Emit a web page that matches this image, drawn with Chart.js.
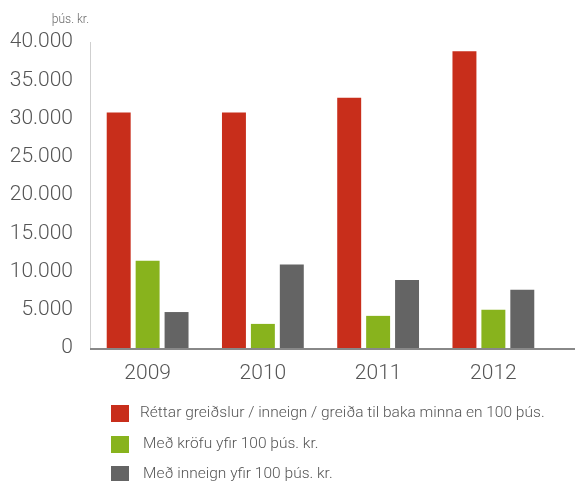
<!DOCTYPE html>
<html>
<head>
<meta charset="utf-8">
<script src="https://cdn.jsdelivr.net/npm/chart.js@4/dist/chart.umd.min.js"></script>
<style>
  html, body { margin: 0; padding: 0; background: #fff; }
  #wrap { width: 575px; height: 481px; position: relative; }
</style>
</head>
<body>
<div id="wrap"><canvas id="chart"></canvas></div>
<script>
const years = ["2009", "2010", "2011", "2012"];
const seriesNames = [
  "Réttar greiðslur / inneign / greiða til baka minna en 100 þús.",
  "Með kröfu yfir 100 þús. kr.",
  "Með inneign yfir 100 þús. kr."
];
const smallPayments = [30800, 30800, 32700, 38800];
const withClaim = [11400, 3150, 4200, 5000];
const withCredit = [4700, 10900, 8900, 7600];
const unitLabel = "þús. kr.";

const colors = ["#c82e1b", "#88b31d", "#646464"];
const fontFamily = "'Helvetica Neue', Roboto, 'Liberation Sans', Arial, sans-serif";

// thousands separator with a dot
function fmt(v) {
  return String(v).replace(/\B(?=(\d{3})+(?!\d))/g, ".");
}

// unit label, long x axis line and the stacked legend
const extras = {
  id: "extras",
  afterDraw(chart) {
    const c = chart.ctx;
    const area = chart.chartArea;
    c.save();

    c.fillStyle = "#666";
    c.font = "300 12px " + fontFamily;
    c.textAlign = "right";
    c.textBaseline = "middle";
    c.fillText(unitLabel, 89, 20);

    c.strokeStyle = "#888";
    c.lineWidth = 2;
    c.beginPath();
    c.moveTo(area.left, area.bottom + 1);
    c.lineTo(chart.width, area.bottom + 1);
    c.stroke();

    const rows = [
      { y: 413, tx: 140 },
      { y: 444, tx: 143 },
      { y: 474, tx: 143 }
    ];
    c.textAlign = "left";
    c.font = "300 15.5px " + fontFamily;
    chart.data.datasets.forEach((ds, i) => {
      const r = rows[i];
      c.fillStyle = ds.backgroundColor;
      c.fillRect(111, r.y - 8, 18, 17);
      c.fillStyle = "#555";
      c.fillText(ds.label, r.tx, r.y);
    });
    c.restore();
  }
};

new Chart(document.getElementById("chart"), {
  type: "bar",
  data: {
    labels: years,
    datasets: [
      { label: seriesNames[0], data: smallPayments, backgroundColor: colors[0] },
      { label: seriesNames[1], data: withClaim, backgroundColor: colors[1] },
      { label: seriesNames[2], data: withCredit, backgroundColor: colors[2] }
    ]
  },
  options: {
    responsive: true,
    maintainAspectRatio: false,
    animation: false,
    categoryPercentage: 0.753,
    barPercentage: 0.828,
    layout: { padding: { top: 42, right: 24, bottom: 93, left: 0 } },
    plugins: {
      legend: { display: false },
      tooltip: { enabled: false }
    },
    scales: {
      x: {
        grid: { display: false, drawTicks: false },
        border: { display: false },
        ticks: {
          color: "#555",
          padding: 13,
          font: { family: fontFamily, size: 21, weight: 300 }
        },
        afterFit(scale) { scale.height = 40; }
      },
      y: {
        min: 0,
        max: 40000,
        grid: { display: false, drawTicks: false },
        border: { display: true, color: "#cfcfcf", width: 1 },
        ticks: {
          stepSize: 5000,
          color: "#555",
          padding: 17,
          font: { family: fontFamily, size: 21, weight: 300 },
          callback: (v) => fmt(v)
        },
        afterFit(scale) { scale.width = 90; }
      }
    }
  },
  plugins: [extras]
});
</script>
</body>
</html>
